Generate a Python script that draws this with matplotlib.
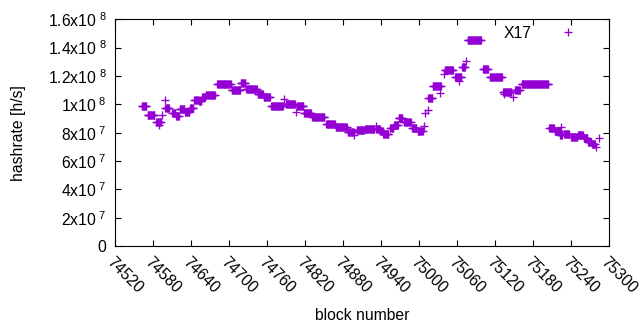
import numpy as np
import matplotlib
matplotlib.use('Agg')
import matplotlib.pyplot as plt
from matplotlib.ticker import FuncFormatter, MultipleLocator

plt.rcParams['font.family'] = ['Liberation Sans', 'DejaVu Sans']
plt.rcParams['mathtext.fontset'] = 'custom'
plt.rcParams['mathtext.rm'] = 'Liberation Sans'

# runs of blocks sharing one hashrate value (first block, last block, rate in 1e7 h/s)
seg_first = [74563, 74572, 74586, 74590, 74595, 74599, 74600, 74611, 74617, 74623,
             74631, 74639, 74646, 74653, 74658, 74664, 74682, 74705, 74719, 74728,
             74746, 74755, 74767, 74787, 74790, 74806, 74808, 74819, 74832, 74854,
             74869, 74888, 74898, 74902, 74915, 74932, 74933, 74939, 74944, 74955,
             74961, 74968, 74976, 74989, 74998, 75008, 75010, 75014, 75015, 75022,
             75034, 75039, 75041, 75057, 75063, 75068, 75075, 75077, 75101, 75112,
             75133, 75134, 75149, 75152, 75162, 75206, 75214, 75223, 75225, 75229,
             75240, 75251, 75260, 75267, 75273, 75280, 75284]
seg_last = [74570, 74583, 74593, 74590, 74595, 74599, 74606, 74616, 74621, 74630,
            74638, 74644, 74652, 74657, 74663, 74678, 74703, 74718, 74726, 74744,
            74754, 74765, 74785, 74787, 74804, 74806, 74818, 74830, 74851, 74867,
            74886, 74897, 74898, 74914, 74930, 74932, 74938, 74943, 74952, 74960,
            74967, 74974, 74987, 74996, 75006, 75008, 75010, 75014, 75021, 75035,
            75034, 75039, 75054, 75067, 75063, 75073, 75075, 75098, 75109, 75131,
            75146, 75134, 75149, 75159, 75204, 75213, 75222, 75226, 75225, 75237,
            75250, 75259, 75266, 75272, 75278, 75280, 75284]
seg_rate = [9.86, 9.22, 8.72, 8.54, 9.24, 10.30, 9.77, 9.36, 9.15, 9.65,
            9.48, 9.72, 10.32, 10.23, 10.49, 10.68, 11.41, 11.04, 11.48, 11.06,
            10.73, 10.49, 9.88, 10.35, 10.00, 9.48, 9.90, 9.36, 9.08, 8.61,
            8.38, 8.07, 7.83, 8.19, 8.24, 8.47, 8.29, 8.09, 7.88, 8.31,
            8.52, 9.01, 8.77, 8.31, 8.14, 8.49, 9.42, 9.62, 10.42, 11.27,
            10.82, 12.12, 12.40, 11.91, 11.64, 12.61, 13.03, 14.52, 12.47, 11.91,
            10.89, 10.71, 10.49, 10.99, 11.45, 8.35, 8.12, 7.85, 8.40, 7.93,
            7.67, 7.85, 7.62, 7.36, 7.22, 7.01, 7.62]

blocks = np.concatenate([np.arange(a, b + 1) for a, b in zip(seg_first, seg_last)])
rates = np.concatenate([np.full(b - a + 1, r * 1e7)
                        for a, b, r in zip(seg_first, seg_last, seg_rate)])

fig = plt.figure(figsize=(6.4, 3.3), dpi=100)
ax = fig.add_axes([0.179, 0.2545, 0.7726, 0.687])

ax.plot(blocks, rates, linestyle='none', marker='+', markersize=5.8,
        markeredgewidth=0.95, color='#9400d3', label='X17')

ax.set_xlim(74520, 75300)
ax.set_ylim(0, 1.6e8)
ax.xaxis.set_major_locator(MultipleLocator(60))
ax.yaxis.set_major_locator(MultipleLocator(2e7))


def yfmt(v, pos):
    if v <= 0:
        return '0' if abs(v) < 1 else ''
    e = int(np.floor(np.log10(v) + 1e-9))
    m = v / 10 ** e
    ms = ('%.1f' % m).rstrip('0').rstrip('.')
    return ms + 'x10' + r'$^{\ %d}$' % e


ax.yaxis.set_major_formatter(FuncFormatter(yfmt))

ax.tick_params(axis='both', which='major', direction='in', length=4, width=0.8,
               top=True, right=True, labelsize=11.3, colors='black')
ax.tick_params(axis='y', pad=6)
for lab in ax.get_xticklabels():
    lab.set_rotation(-45)
    lab.set_ha('left')
    lab.set_va('top')
    lab.set_rotation_mode('anchor')
ax.tick_params(axis='x', pad=6)

for s in ax.spines.values():
    s.set_linewidth(0.8)

ax.set_xlabel('block number', fontsize=11.3)
ax.set_ylabel('hashrate [h/s]', fontsize=11.3)
ax.xaxis.set_label_coords(0.5, -0.275)
ax.yaxis.set_label_coords(-0.179, 0.5)

ax.legend(loc='upper right', markerfirst=False, frameon=False, fontsize=11.3,
          handlelength=2.2, handletextpad=1.2, borderaxespad=0.0,
          bbox_to_anchor=(0.964, 1.0))

fig.savefig('out.png', dpi=100)
